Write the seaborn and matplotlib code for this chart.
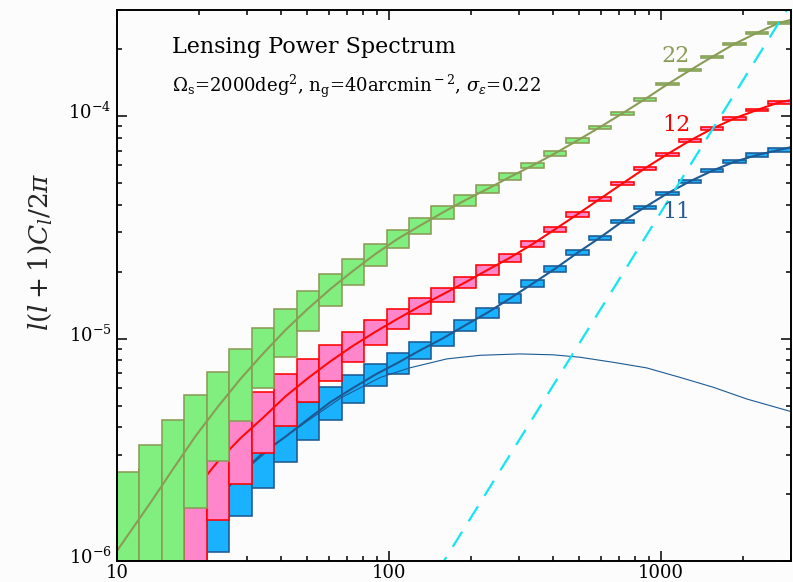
import numpy as np
import pandas as pd
import matplotlib
matplotlib.use("Agg")
import matplotlib.pyplot as plt
import matplotlib.transforms as mtransforms
import seaborn as sns
from matplotlib.ticker import LogLocator, NullFormatter, FixedLocator, FixedFormatter

# ---- multipole binning (30 log bins between l=10 and l=3000) ----
l_edges = [10.0, 12.09, 14.63, 17.69, 21.40, 25.87, 31.29, 37.85, 45.77, 55.36,
           66.95, 80.97, 97.93, 118.4, 143.2, 173.2, 209.5, 253.4, 306.4, 370.6,
           448.2, 542.1, 655.6, 792.9, 959.0, 1160.0, 1403.0, 1696.0, 2052.0, 2481.0, 3000.0]

# ---- theory curves: l=10, the 30 bin centres, l=3000 ----
l_curve = [10.0, 11.0, 13.3, 16.09, 19.45, 23.53, 28.46, 34.41, 41.62, 50.34, 60.88,
           73.63, 89.05, 107.7, 130.3, 157.5, 190.5, 230.4, 278.7, 337.0, 407.6,
           492.9, 596.2, 721.0, 872.0, 1055.0, 1276.0, 1543.0, 1866.0, 2256.0, 2729.0, 3000.0]

cl_22 = [1.11e-6, 1.315e-6, 1.834e-6, 2.597e-6, 3.647e-6, 4.951e-6, 6.592e-6, 8.551e-6,
         1.0925e-5, 1.362e-5, 1.67e-5, 2.012e-5, 2.398e-5, 2.809e-5, 3.224e-5, 3.686e-5,
         4.186e-5, 4.71e-5, 5.333e-5, 5.998e-5, 6.80e-5, 7.77e-5, 8.92e-5, 1.0287e-4,
         1.191e-4, 1.389e-4, 1.6055e-4, 1.848e-4, 2.115e-4, 2.37e-4, 2.63e-4, 2.706e-4]

cl_12 = [0.95e-6, 1.1e-6, 1.4e-6, 1.75e-6, 2.11e-6, 2.81e-6, 3.57e-6, 4.405e-6,
         5.496e-6, 6.637e-6, 7.9e-6, 9.269e-6, 1.072e-5, 1.2284e-5, 1.4005e-5, 1.5797e-5,
         1.788e-5, 2.035e-5, 2.3105e-5, 2.6585e-5, 3.099e-5, 3.62e-5, 4.246e-5, 4.974e-5,
         5.823e-5, 6.743e-5, 7.755e-5, 8.784e-5, 9.78e-5, 1.066e-4, 1.155e-4, 1.18e-4]

cl_11 = [0.7e-6, 0.8e-6, 1.0e-6, 1.25e-6, 1.514e-6, 1.963e-6, 2.466e-6, 3.066e-6,
         3.619e-6, 4.339e-6, 5.181e-6, 5.99e-6, 6.888e-6, 7.781e-6, 8.867e-6, 1.001e-5,
         1.1466e-5, 1.309e-5, 1.516e-5, 1.765e-5, 2.06e-5, 2.4285e-5, 2.8425e-5, 3.36e-5,
         3.893e-5, 4.4935e-5, 5.0885e-5, 5.68e-5, 6.24e-5, 6.685e-5, 7.055e-5, 7.25e-5]

# ---- 1-sigma band-power errors per bin ----
err_22 = [1.20e-6, 1.48e-6, 1.71e-6, 1.91e-6, 2.14e-6, 2.35e-6, 2.55e-6, 2.69e-6, 2.75e-6, 2.76e-6,
          2.76e-6, 2.74e-6, 2.65e-6, 2.64e-6, 2.44e-6, 2.27e-6, 1.98e-6, 1.89e-6, 1.72e-6, 1.58e-6,
          1.66e-6, 1.55e-6, 1.46e-6, 1.56e-6, 1.54e-6, 1.75e-6, 1.75e-6, 2.0e-6, 2.23e-6, 2.47e-6]

err_12 = [1.0e-6, 1.2e-6, 1.3e-6, 1.3e-6, 1.28e-6, 1.35e-6, 1.35e-6, 1.46e-6, 1.45e-6, 1.45e-6,
          1.39e-6, 1.35e-6, 1.28e-6, 1.16e-6, 1.13e-6, 1.03e-6, 1.0e-6, 0.90e-6, 0.84e-6, 0.86e-6,
          0.83e-6, 0.80e-6, 0.90e-6, 0.94e-6, 0.98e-6, 0.97e-6, 1.10e-6, 1.26e-6, 1.37e-6, 1.86e-6]

err_11 = [0.7e-6, 0.8e-6, 0.85e-6, 0.87e-6, 0.87e-6, 0.88e-6, 0.93e-6, 0.84e-6, 0.85e-6, 0.88e-6,
          0.84e-6, 0.79e-6, 0.84e-6, 0.77e-6, 0.72e-6, 0.64e-6, 0.67e-6, 0.65e-6, 0.62e-6, 0.59e-6,
          0.65e-6, 0.62e-6, 0.66e-6, 0.69e-6, 0.72e-6, 0.81e-6, 0.95e-6, 1.04e-6, 1.09e-6, 1.28e-6]

# ---- linear-theory auto spectrum of bin 1 ----
l_lin = [10, 20, 30, 40, 50, 67, 93, 119, 163, 216, 303, 402, 504, 668, 886, 1175, 1557, 2066, 3000]
cl_11_lin = [0.7e-6, 1.56e-6, 2.6e-6, 3.5e-6, 4.25e-6, 5.44e-6, 6.69e-6, 7.38e-6, 8.1e-6, 8.41e-6,
             8.53e-6, 8.45e-6, 8.24e-6, 7.82e-6, 7.38e-6, 6.69e-6, 6.04e-6, 5.35e-6, 4.70e-6]

# ---- shape-noise power ----
l_noise = [150, 3000]
noise = [8.9e-7, 3.21e-4]

# ---- series labels ----
pair_labels = ["22", "12", "11"]
label_l = [1135, 1135, 1135]
label_y = [1.757e-4, 8.59e-5, 3.497e-5]

sns.set_theme(style="ticks")
plt.rcParams.update({
    "font.family": ["DejaVu Serif"],
    "mathtext.fontset": "dejavuserif",
    "axes.linewidth": 1.4,
    "axes.edgecolor": "black",
})

BG = "#fcfcfc"
fig = plt.figure(figsize=(7.93, 5.82), dpi=100, facecolor=BG)
ax = fig.add_axes([117 / 793, 21 / 582, 673.8 / 793, 551 / 582], facecolor=BG)
ax.set_xscale("log")
ax.set_yscale("log")

lo = np.array(l_edges[:-1])
hi = np.array(l_edges[1:])


def draw_boxes(cl, err, face, edge, z):
    c = np.array(cl[1:-1])
    e = np.array(err)
    ax.bar(lo, 2 * e, width=hi - lo, bottom=c - e, align="edge",
           color=face, edgecolor=edge, linewidth=1.15, zorder=z)


def draw_curve(x, y, color, lw, z):
    df = pd.DataFrame({"l": x, "cl": y})
    sns.lineplot(data=df, x="l", y="cl", ax=ax, color=color, linewidth=lw,
                 estimator=None, sort=False, legend=False, zorder=z)


blue_fill, blue_edge = "#1ab2ff", "#1d5a94"
pink_fill, red_edge = "#ff86cb", "#ff0000"
green_fill, olive = "#80ef80", "#8a9c55"

draw_boxes(cl_11, err_11, blue_fill, blue_edge, 2)
draw_curve(l_curve, cl_11, blue_edge, 1.5, 3)
draw_curve(l_lin, cl_11_lin, blue_edge, 0.8, 3)

draw_boxes(cl_12, err_12, pink_fill, red_edge, 4)
draw_curve(l_curve, cl_12, "#ff0a0a", 1.5, 5)

draw_boxes(cl_22, err_22, green_fill, olive, 6)
draw_curve(l_curve, cl_22, olive, 1.5, 7)

ax.plot(l_noise, noise, color="#12e6ee", linewidth=1.6,
        linestyle=(0, (8, 5.5)), zorder=8)

ax.set_xlim(10, 3000)
ax.set_ylim(1e-6, 3e-4)

ax.xaxis.set_major_locator(FixedLocator([10, 100, 1000]))
ax.xaxis.set_major_formatter(FixedFormatter(["10", "100", "1000"]))
ax.xaxis.set_minor_locator(LogLocator(base=10, subs=np.arange(2, 10)))
ax.xaxis.set_minor_formatter(NullFormatter())
ax.yaxis.set_major_locator(FixedLocator([1e-6, 1e-5, 1e-4]))
ax.yaxis.set_major_formatter(FixedFormatter([r"$10^{-6}$", r"$10^{-5}$", r"$10^{-4}$"]))
ax.yaxis.set_minor_locator(LogLocator(base=10, subs=np.arange(2, 10)))
ax.yaxis.set_minor_formatter(NullFormatter())
ax.tick_params(which="both", direction="in", top=True, right=True, width=1.1,
               colors="black", labelsize=13)
ax.tick_params(which="major", length=7)
ax.tick_params(axis="x", which="major", pad=2)
ax.tick_params(axis="y", which="major", pad=4)
ax.tick_params(which="minor", length=3.6)
ax.set_xlabel("")
ax.set_ylabel("")
for s in ax.spines.values():
    s.set_zorder(20)
    s.set_color("black")

# lift the y tick labels so the mantissa "10" sits on its tick
lift = mtransforms.ScaledTranslation(0, 4 / 72, fig.dpi_scale_trans)
for lab in ax.get_yticklabels():
    lab.set_transform(lab.get_transform() + lift)

fig.text(40 / 793, 1 - 252 / 582, r"$l(l+1)C_l/2\pi$", rotation=90,
         ha="center", va="center", fontsize=19)

ax.text(0.0816, 0.922, "Lensing Power Spectrum", transform=ax.transAxes,
        ha="left", va="baseline", fontsize=16, color="black", zorder=30)
ax.text(0.0816, 0.851,
        r"$\Omega_{\rm s}$=2000deg$^{\rm 2}$, n$_{\rm g}$=40arcmin$^{\rm -2}$, $\sigma_\epsilon$=0.22",
        transform=ax.transAxes, ha="left", va="baseline", fontsize=13,
        color="black", zorder=30)

for txt, lx, ly, col in zip(pair_labels, label_l, label_y, [olive, "#ff0000", "#2a5c8f"]):
    ax.text(lx, ly, txt, ha="center", va="baseline", fontsize=16, color=col, zorder=30)

fig.savefig("out.png", dpi=100, facecolor=BG)
